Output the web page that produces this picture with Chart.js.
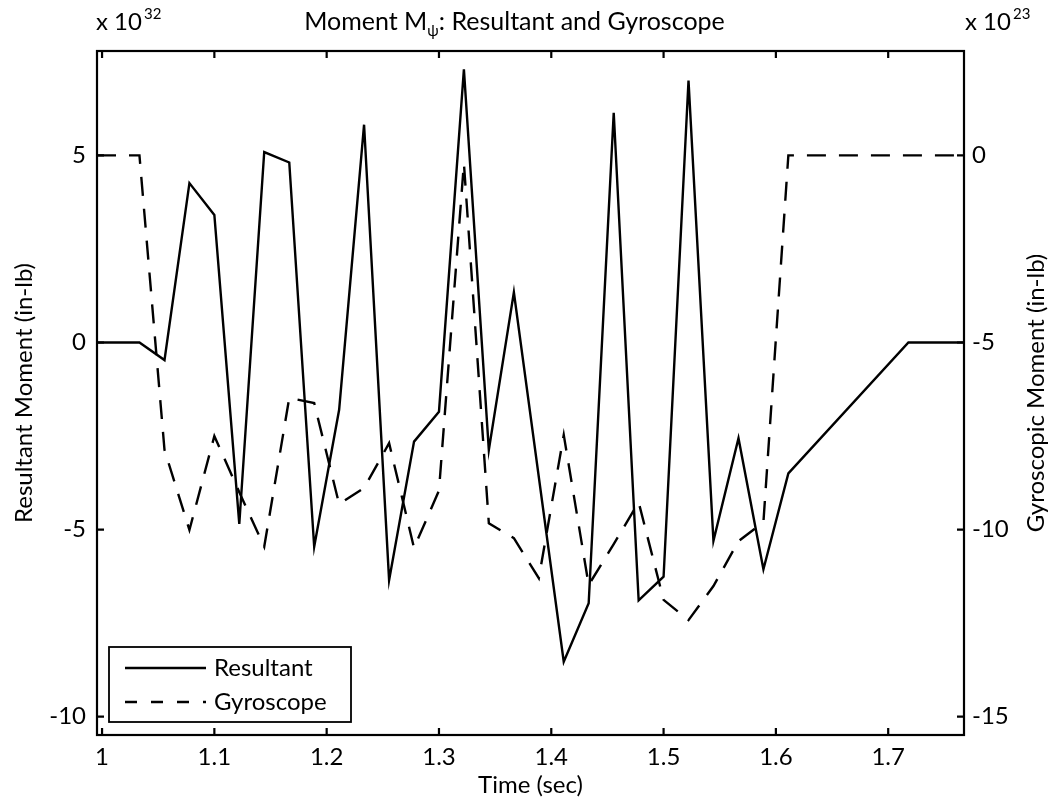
<!DOCTYPE html>
<html lang="en">
<head>
<meta charset="UTF-8">
<title>Moment M psi: Resultant and Gyroscope</title>
<script src="https://cdn.jsdelivr.net/npm/chart.js"></script>
<style>
    body { margin: 0; background: #fff; }
    #box { width: 1050px; height: 806px; }
</style>
</head>
<body>
<div id="box"><canvas id="myChart"></canvas></div>
<script>
    // valores
    var resTime = [0.9955, 1.0333, 1.0556, 1.0778, 1.1, 1.1222, 1.1444, 1.1667, 1.1889, 1.2111,
        1.2333, 1.2556, 1.2778, 1.3, 1.3222, 1.3444, 1.3667, 1.4111, 1.4333, 1.4556,
        1.4778, 1.5, 1.5222, 1.5444, 1.5667, 1.5889, 1.6111, 1.718, 1.7675];
    var resValue = [0, 0, -0.47, 4.26, 3.41, -4.85, 5.09, 4.81, -5.46, -1.8,
        5.82, -6.35, -2.65, -1.85, 7.30, -2.87, 1.34, -8.53, -6.97, 6.14,
        -6.89, -6.26, 7.0, -5.30, -2.56, -6.06, -3.50, 0, 0];

    var gyroTime = [0.9955, 1.0333, 1.0556, 1.0778, 1.1, 1.1222, 1.1444, 1.1667, 1.1889, 1.2111,
        1.2333, 1.2556, 1.2778, 1.3, 1.3222, 1.3444, 1.3667, 1.3889, 1.4111, 1.4333,
        1.4556, 1.4778, 1.5, 1.5222, 1.5444, 1.5667, 1.5889, 1.6111, 1.7675];
    var gyroValue = [0, 0, -7.87, -10.01, -7.50, -9.0, -10.46, -6.48, -6.62, -9.32,
        -8.89, -7.69, -10.49, -8.96, -0.21, -9.83, -10.23, -11.3, -7.47, -11.48,
        -10.39, -9.27, -11.88, -12.42, -11.51, -10.31, -9.80, 0, 0];

    var xTicks = [1, 1.1, 1.2, 1.3, 1.4, 1.5, 1.6, 1.7];
    var xTickLabels = ['1', '1.1', '1.2', '1.3', '1.4', '1.5', '1.6', '1.7'];
    var yLeftTicks = [-10, -5, 0, 5];
    var yRightTicks = [-15, -10, -5, 0];

    var fonte = 'Lato, "Open Sans", sans-serif';

    function pares(xs, ys) {
        return xs.map(function (x, i) { return { x: x, y: ys[i] }; });
    }

    function fixarTicks(lista) {
        return function (scale) {
            scale.ticks = lista.map(function (v) { return { value: v }; });
        };
    }

    // moldura com ticks para dentro, como no matlab
    var moldura = {
        id: 'moldura',
        afterDatasetsDraw: function (chart) {
            var ctx = chart.ctx;
            var a = chart.chartArea;
            var t = 7;
            ctx.save();
            ctx.strokeStyle = '#000';
            ctx.lineWidth = 2.2;
            ctx.strokeRect(a.left, a.top, a.right - a.left, a.bottom - a.top);
            ctx.beginPath();
            xTicks.forEach(function (v) {
                var px = chart.scales.x.getPixelForValue(v);
                ctx.moveTo(px, a.bottom); ctx.lineTo(px, a.bottom - t);
                ctx.moveTo(px, a.top); ctx.lineTo(px, a.top + t);
            });
            yLeftTicks.forEach(function (v) {
                var py = chart.scales.y.getPixelForValue(v);
                ctx.moveTo(a.left, py); ctx.lineTo(a.left + t, py);
            });
            yRightTicks.forEach(function (v) {
                var py = chart.scales.y2.getPixelForValue(v);
                ctx.moveTo(a.right, py); ctx.lineTo(a.right - t, py);
            });
            ctx.stroke();
            ctx.restore();
        }
    };

    // titulo com subscrito, expoentes e titulo do eixo direito
    var textos = {
        id: 'textos',
        afterDraw: function (chart) {
            var ctx = chart.ctx;
            var a = chart.chartArea;
            ctx.save();
            ctx.fillStyle = '#000';
            ctx.textBaseline = 'alphabetic';

            var grande = '25px ' + fonte;
            var pequeno = '15px ' + fonte;
            var p1 = 'Moment M', p2 = '\u03C8', p3 = ': Resultant and Gyroscope';
            ctx.font = grande;
            var w1 = ctx.measureText(p1).width;
            var w3 = ctx.measureText(p3).width;
            ctx.font = pequeno;
            var w2 = ctx.measureText(p2).width;
            var x0 = (a.left + a.right) / 2 - 16 - (w1 + w2 + w3) / 2;
            var base = 30;
            ctx.font = grande;
            ctx.fillText(p1, x0, base);
            ctx.font = pequeno;
            ctx.fillText(p2, x0 + w1, base + 6);
            ctx.font = grande;
            ctx.fillText(p3, x0 + w1 + w2, base);

            // x 10^32 e x 10^23
            ctx.font = '24px ' + fonte;
            ctx.fillText('x 10', a.left - 1, base);
            var wl = ctx.measureText('x 10').width;
            ctx.font = pequeno;
            ctx.fillText('32', a.left + wl + 1, base - 11);
            ctx.font = '24px ' + fonte;
            ctx.fillText('x 10', a.right + 1, base);
            var wr = ctx.measureText('x 10').width;
            ctx.font = pequeno;
            ctx.fillText('23', a.right + wr + 3, base - 11);

            // eixo direito, lido de baixo para cima
            ctx.font = '24px ' + fonte;
            ctx.translate(1036, (a.top + a.bottom) / 2);
            ctx.rotate(-Math.PI / 2);
            ctx.textAlign = 'center';
            ctx.textBaseline = 'middle';
            ctx.fillText('Gyroscopic Moment (in-lb)', 0, 0);
            ctx.restore();
        }
    };

    // legenda dentro do grafico, com caixa
    var legenda = {
        id: 'legenda',
        afterDraw: function (chart) {
            var ctx = chart.ctx;
            var a = chart.chartArea;
            var bx = a.left + 12, by = a.bottom - 88, bw = 242, bh = 75;
            ctx.save();
            ctx.fillStyle = '#fff';
            ctx.fillRect(bx, by, bw, bh);
            ctx.strokeStyle = '#000';
            ctx.lineWidth = 1.8;
            ctx.strokeRect(bx, by, bw, bh);
            ctx.font = '24px ' + fonte;
            ctx.textBaseline = 'middle';
            ctx.fillStyle = '#000';
            chart.data.datasets.forEach(function (ds, i) {
                var ly = by + 21 + i * 34;
                ctx.beginPath();
                ctx.lineWidth = ds.borderWidth;
                ctx.setLineDash(ds.borderDash ? [12, 14] : []);
                ctx.moveTo(bx + 16, ly);
                ctx.lineTo(bx + 97, ly);
                ctx.stroke();
                ctx.setLineDash([]);
                ctx.fillText(ds.label, bx + 105, ly);
            });
            ctx.restore();
        }
    };

    var ctx = document.getElementById('myChart');

    new Chart(ctx, {
        type: 'line',
        data: {
            datasets: [{
                label: 'Resultant',
                data: pares(resTime, resValue),
                borderColor: '#000',
                borderWidth: 2.4,
                pointRadius: 0,
                tension: 0,
                yAxisID: 'y'
            }, {
                label: 'Gyroscope',
                data: pares(gyroTime, gyroValue),
                borderColor: '#000',
                borderWidth: 2.4,
                borderDash: [19, 13],
                pointRadius: 0,
                tension: 0,
                yAxisID: 'y2'
            }]
        },
        options: {
            responsive: true,
            maintainAspectRatio: false,
            animation: false,
            layout: { padding: { top: 51, left: 0, right: 0, bottom: 0 } },
            plugins: {
                legend: { display: false },
                tooltip: { enabled: false }
            },
            scales: {
                x: {
                    type: 'linear',
                    min: 0.9955,
                    max: 1.7675,
                    afterBuildTicks: fixarTicks(xTicks),
                    afterFit: function (s) { s.height = 71; },
                    grid: { display: false, drawTicks: false },
                    border: { display: false },
                    ticks: {
                        color: '#000',
                        font: { family: fonte, size: 24 },
                        padding: 8,
                        maxRotation: 0,
                        autoSkip: false,
                        callback: function (v, i) { return xTickLabels[i]; }
                    },
                    title: {
                        display: true,
                        text: 'Time (sec)',
                        color: '#000',
                        font: { family: fonte, size: 24 },
                        padding: { top: 0, bottom: 6 }
                    }
                },
                y: {
                    type: 'linear',
                    position: 'left',
                    min: -10.49,
                    max: 7.79,
                    afterBuildTicks: fixarTicks(yLeftTicks),
                    afterFit: function (s) { s.width = 97; },
                    grid: { display: false, drawTicks: false },
                    border: { display: false },
                    ticks: {
                        color: '#000',
                        font: { family: fonte, size: 24 },
                        padding: 11,
                        callback: function (v) { return String(v); }
                    },
                    title: {
                        display: true,
                        text: 'Resultant Moment (in-lb)',
                        color: '#000',
                        font: { family: fonte, size: 24 },
                        padding: { top: 10, bottom: 0 }
                    }
                },
                y2: {
                    type: 'linear',
                    position: 'right',
                    min: -15.49,
                    max: 2.79,
                    afterBuildTicks: fixarTicks(yRightTicks),
                    afterFit: function (s) { s.width = 86; },
                    grid: { display: false, drawTicks: false },
                    border: { display: false },
                    ticks: {
                        color: '#000',
                        font: { family: fonte, size: 24 },
                        padding: 8,
                        callback: function (v) { return String(v); }
                    }
                }
            }
        },
        plugins: [moldura, textos, legenda]
    });
</script>
</body>
</html>
